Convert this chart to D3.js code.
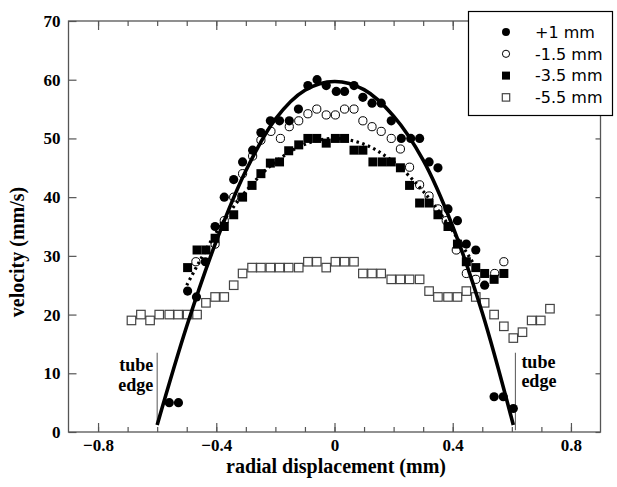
<!DOCTYPE html>
<html>
<head>
<meta charset="utf-8">
<script src="https://cdn.jsdelivr.net/npm/d3@7"></script>
<style>
  body { margin: 0; background: #fff; }
  svg { display: block; }
  .serif { font-family: "Liberation Serif", "Times New Roman", serif; font-weight: bold; fill: #000; }
  .legend text { font-family: "DejaVu Sans", Verdana, sans-serif; font-size: 16px; fill: #000; }
</style>
</head>
<body>
<div id="chart"></div>
<script>
const w = 617;
const h = 487;

// [radial displacement (mm), velocity (mm/s)]
const plus1mm = [
  [-0.559, 5], [-0.528, 5], [-0.497, 24], [-0.467, 23], [-0.437, 29], [-0.404, 35],
  [-0.373, 40], [-0.341, 43], [-0.311, 46], [-0.277, 48], [-0.249, 51], [-0.217, 53],
  [-0.186, 53], [-0.153, 53], [-0.122, 55], [-0.09, 59], [-0.059, 60], [-0.028, 59],
  [0.006, 58], [0.034, 58], [0.066, 59], [0.096, 57], [0.127, 56], [0.158, 56],
  [0.192, 53], [0.226, 50], [0.258, 50], [0.288, 50], [0.32, 46], [0.35, 45],
  [0.384, 38], [0.416, 36], [0.446, 32], [0.478, 31], [0.508, 25], [0.54, 6],
  [0.571, 6], [0.605, 4]
];
const minus15mm = [
  [-0.469, 29], [-0.404, 32], [-0.373, 36], [-0.341, 40], [-0.311, 44], [-0.277, 47],
  [-0.249, 49.7], [-0.215, 51.2], [-0.183, 50], [-0.153, 52], [-0.121, 53], [-0.09, 54.2],
  [-0.06, 55], [-0.028, 54], [0.003, 54], [0.034, 55], [0.066, 55], [0.096, 53],
  [0.127, 52], [0.158, 51.2], [0.192, 50], [0.223, 48.2], [0.254, 45.1], [0.288, 42.1],
  [0.32, 40.2], [0.35, 38], [0.378, 36], [0.412, 31], [0.446, 27], [0.478, 26],
  [0.542, 27], [0.573, 29]
];
const minus35mm = [
  [-0.497, 28], [-0.465, 31], [-0.435, 31], [-0.404, 33], [-0.373, 35], [-0.341, 37],
  [-0.311, 40], [-0.279, 42], [-0.249, 44], [-0.217, 45.8], [-0.186, 46], [-0.155, 47.9],
  [-0.121, 48.9], [-0.09, 50], [-0.06, 50], [-0.028, 49.2], [0.003, 50], [0.034, 50],
  [0.066, 48], [0.096, 48], [0.13, 46], [0.162, 46], [0.192, 46], [0.223, 45],
  [0.254, 42], [0.288, 39], [0.32, 39], [0.35, 37], [0.384, 35], [0.416, 32],
  [0.446, 29], [0.478, 28], [0.508, 27], [0.54, 26], [0.573, 27]
];
const minus55mm = [
  [-0.687, 19], [-0.655, 20], [-0.624, 19], [-0.593, 20], [-0.559, 20], [-0.529, 20],
  [-0.497, 20], [-0.465, 20], [-0.435, 22], [-0.404, 23], [-0.373, 23], [-0.341, 25],
  [-0.311, 27], [-0.279, 28], [-0.249, 28], [-0.217, 28], [-0.186, 28], [-0.155, 28],
  [-0.121, 28], [-0.09, 29], [-0.06, 29], [-0.028, 28], [0.003, 29], [0.034, 29],
  [0.066, 29], [0.096, 27], [0.127, 27], [0.158, 27], [0.192, 26], [0.223, 26],
  [0.254, 26], [0.288, 26], [0.32, 24], [0.35, 23], [0.384, 23], [0.416, 23],
  [0.446, 24], [0.478, 23], [0.508, 22], [0.54, 20], [0.573, 18], [0.605, 16],
  [0.636, 17], [0.667, 19], [0.698, 19], [0.729, 21]
];

// fitted profiles, points
const solidFit = [
  [-0.6, 1.2], [-0.5, 18], [-0.4, 32.5], [-0.3, 44.5], [-0.2, 53.3], [-0.1, 58.2],
  [0, 59.7], [0.1, 58.3], [0.2, 53.8], [0.3, 46.3], [0.4, 35], [0.5, 20.3], [0.605, 1.2]
];
const dottedFit = [
  [-0.5, 25], [-0.4, 34], [-0.3, 41], [-0.2, 46], [-0.1, 49], [0, 50],
  [0.1, 49], [0.2, 46], [0.3, 41], [0.4, 34.2], [0.47, 28.7]
];

const tubeEdges = [-0.6, 0.612];
const legendLabels = ["+1 mm", "-1.5 mm", "-3.5 mm", "-5.5 mm"];
const xTickLabels = [-0.8, -0.4, 0, 0.4, 0.8];
const yTickLabels = [0, 10, 20, 30, 40, 50, 60, 70];

const margin = { left: 68.5, right: 600.5, top: 21, bottom: 432 };

const svg = d3.select("#chart").append("svg").attr("width", w).attr("height", h);

const xScale = d3.scaleLinear().domain([-0.9, 0.9]).range([margin.left, margin.right]);
const yScale = d3.scaleLinear().domain([0, 70]).range([margin.bottom, margin.top]);

//Axes, all ticks pointing into the frame
const minorX = d3.range(-0.8, 0.85, 0.1);

const addAxis = (axis, transform) => {
  const g = svg.append("g").attr("transform", transform).call(axis);
  g.select(".domain").remove();
  g.selectAll(".tick line").attr("stroke", "#555").attr("stroke-width", 1.2);
  g.selectAll("text").attr("class", "serif").attr("font-size", 17).attr("fill", "#000");
  return g;
};

addAxis(d3.axisBottom(xScale).tickValues(minorX).tickSize(-5).tickFormat(""), `translate(0,${margin.bottom})`);
addAxis(d3.axisTop(xScale).tickValues(minorX).tickSize(-5).tickFormat(""), `translate(0,${margin.top})`);
addAxis(d3.axisTop(xScale).tickValues(xTickLabels).tickSize(-9).tickFormat(""), `translate(0,${margin.top})`);
addAxis(d3.axisBottom(xScale).tickValues(xTickLabels).tickSize(-9).tickPadding(7).tickFormat(d3.format("")), `translate(0,${margin.bottom})`);
addAxis(d3.axisLeft(yScale).tickValues(yTickLabels).tickSize(-8).tickPadding(8), `translate(${margin.left},0)`)
  .selectAll("text").attr("x", -8);
addAxis(d3.axisRight(yScale).tickValues(yTickLabels).tickSize(-5).tickFormat(""), `translate(${margin.right},0)`);

//Frame
svg.append("rect")
  .attr("x", margin.left).attr("y", margin.top)
  .attr("width", margin.right - margin.left).attr("height", margin.bottom - margin.top)
  .attr("fill", "none").attr("stroke", "#555").attr("stroke-width", 1.3);

//Tube edges
svg.selectAll(".edge")
  .data(tubeEdges)
  .enter()
  .append("line")
  .attr("class", "edge")
  .attr("x1", (d) => xScale(d)).attr("x2", (d) => xScale(d))
  .attr("y1", yScale(13.5)).attr("y2", (d, i) => yScale(i ? 0.3 : 1.2))
  .attr("stroke", "#555").attr("stroke-width", 1);

[["end", tubeEdges[0], -4, 0], ["start", tubeEdges[1], 6, -3.5]].forEach(([anchor, x, dx, dy]) => {
  ["tube", "edge"].forEach((word, i) => {
    svg.append("text")
      .attr("class", "serif")
      .attr("font-size", 18)
      .attr("text-anchor", anchor)
      .attr("x", xScale(x) + dx)
      .attr("y", 371 + dy + i * 19.5)
      .text(word);
  });
});

//Open squares (-5.5 mm)
svg.append("g").selectAll("rect")
  .data(minus55mm)
  .enter()
  .append("rect")
  .attr("x", (d) => xScale(d[0]) - 4.25)
  .attr("y", (d) => yScale(d[1]) - 4.25)
  .attr("width", 8.5).attr("height", 8.5)
  .attr("fill", "none").attr("stroke", "#444").attr("stroke-width", 1.2);

//Fit curves
const line = d3.line()
  .x((d) => xScale(d[0]))
  .y((d) => yScale(d[1]))
  .curve(d3.curveCatmullRom);

svg.append("path")
  .datum(dottedFit)
  .attr("d", line)
  .attr("fill", "none").attr("stroke", "#000").attr("stroke-width", 3.2)
  .attr("stroke-dasharray", "2.5,3.5");

svg.append("path")
  .datum(solidFit)
  .attr("d", line)
  .attr("fill", "none").attr("stroke", "#000").attr("stroke-width", 3.6);

//Open circles (-1.5 mm)
svg.append("g").selectAll("circle")
  .data(minus15mm)
  .enter()
  .append("circle")
  .attr("cx", (d) => xScale(d[0]))
  .attr("cy", (d) => yScale(d[1]))
  .attr("r", 4.1)
  .attr("fill", "none").attr("stroke", "#000").attr("stroke-width", 1);

//Filled squares (-3.5 mm)
svg.append("g").selectAll("rect")
  .data(minus35mm)
  .enter()
  .append("rect")
  .attr("x", (d) => xScale(d[0]) - 4.5)
  .attr("y", (d) => yScale(d[1]) - 4.5)
  .attr("width", 9).attr("height", 9)
  .attr("fill", "#000");

//Filled circles (+1 mm)
svg.append("g").selectAll("circle")
  .data(plus1mm)
  .enter()
  .append("circle")
  .attr("cx", (d) => xScale(d[0]))
  .attr("cy", (d) => yScale(d[1]))
  .attr("r", 4.6)
  .attr("fill", "#000");

//Axis titles
svg.append("text")
  .attr("class", "serif")
  .attr("font-size", 20)
  .attr("text-anchor", "middle")
  .attr("x", 336).attr("y", 473)
  .text("radial displacement (mm)");

svg.append("text")
  .attr("class", "serif")
  .attr("font-size", 20)
  .attr("text-anchor", "middle")
  .attr("transform", "translate(24,252) rotate(-90)")
  .text("velocity (mm/s)");

//Legend
const legend = svg.append("g").attr("class", "legend");
legend.append("rect")
  .attr("x", 468.5).attr("y", 11.5).attr("width", 144).attr("height", 104)
  .attr("fill", "#fff").attr("stroke", "#000").attr("stroke-width", 1.2);

const rowY = (i) => 32 + i * 21.8;
const markers = [
  (g) => g.append("circle").attr("r", 4).attr("fill", "#000"),
  (g) => g.append("circle").attr("r", 3.6).attr("fill", "none").attr("stroke", "#000").attr("stroke-width", 1),
  (g) => g.append("rect").attr("x", -4).attr("y", -4).attr("width", 8).attr("height", 8).attr("fill", "#000"),
  (g) => g.append("rect").attr("x", -3.7).attr("y", -3.7).attr("width", 7.4).attr("height", 7.4)
    .attr("fill", "none").attr("stroke", "#444").attr("stroke-width", 1.2)
];
legendLabels.forEach((label, i) => {
  const row = legend.append("g").attr("transform", `translate(506,${rowY(i)})`);
  markers[i](row);
  row.append("text").attr("x", 29).attr("dy", "0.36em").text(label);
});
</script>
</body>
</html>
